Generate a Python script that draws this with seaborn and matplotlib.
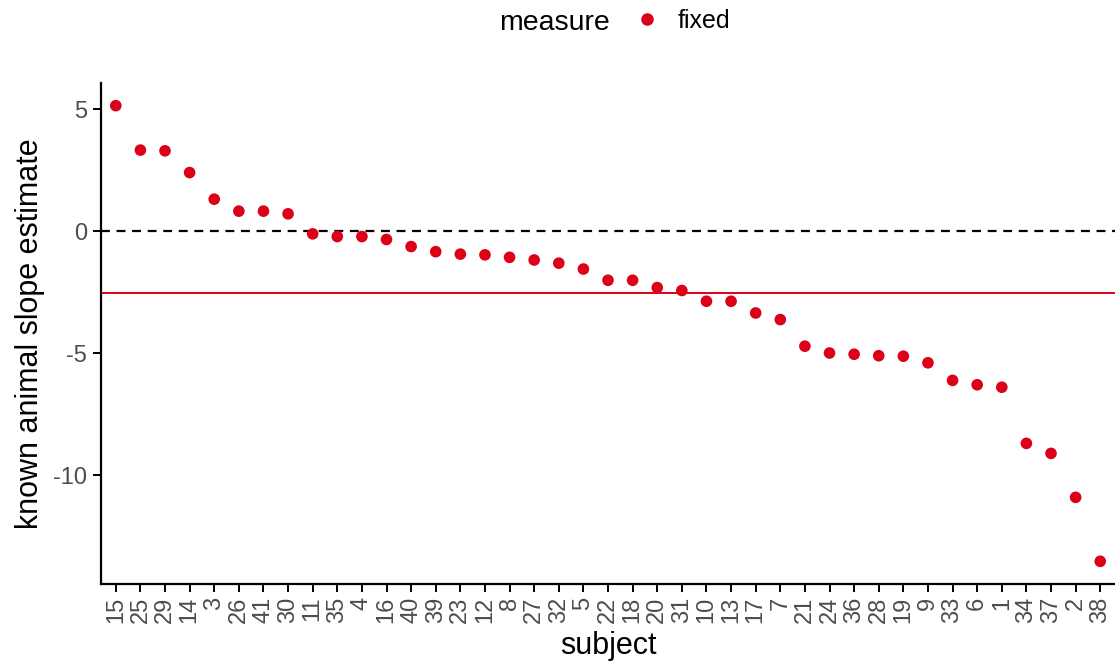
import pandas as pd
import matplotlib
matplotlib.use("Agg")
import matplotlib.pyplot as plt
import seaborn as sns

# subjects in plotted order, and their slope estimates
subjects = ["15", "25", "29", "14", "3", "26", "41", "30", "11", "35", "4", "16",
            "40", "39", "23", "12", "8", "27", "32", "5", "22", "18", "20", "31",
            "10", "13", "17", "7", "21", "24", "36", "28", "19", "9", "33", "6",
            "1", "34", "37", "2", "38"]
estimates = [5.14, 3.32, 3.29, 2.40, 1.31, 0.82, 0.82, 0.71, -0.11, -0.22, -0.22, -0.34,
             -0.63, -0.84, -0.94, -0.97, -1.07, -1.18, -1.31, -1.55, -2.01, -2.01, -2.31, -2.43,
             -2.87, -2.87, -3.35, -3.62, -4.71, -4.99, -5.04, -5.10, -5.12, -5.39, -6.11, -6.29,
             -6.39, -8.69, -9.10, -10.90, -13.52]
measure = ["fixed"] * len(subjects)
mean_line = -2.54
ref_line = 0

df = pd.DataFrame({"subject": subjects, "estimate": estimates, "measure": measure})

sns.set_style("ticks")
plt.rcParams["font.family"] = ["Liberation Sans", "DejaVu Sans"]
plt.rcParams["axes.unicode_minus"] = False
plt.rcParams["text.color"] = "black"
plt.rcParams["axes.labelcolor"] = "black"

red = "#DC0018"

fig = plt.figure(figsize=(11.15, 6.63), dpi=100)
ax = fig.add_axes([0.0906, 0.119, 0.9094, 0.756])

sns.scatterplot(data=df, x="subject", y="estimate", hue="measure", palette={"fixed": red},
                s=70, linewidth=0, ax=ax, zorder=3)

ax.axhline(ref_line, color="black", linestyle=(0, (4, 3)), linewidth=1.6, zorder=2)
ax.axhline(mean_line, color=red, linewidth=1.4, zorder=2)

n = len(subjects)
ax.set_xlim(-0.6, n - 1 + 0.6)
rng = max(estimates) - min(estimates)
ax.set_ylim(min(estimates) - 0.05 * rng, max(estimates) + 0.05 * rng)
ax.set_yticks([-10, -5, 0, 5])

sns.despine(ax=ax)
for side in ["left", "bottom"]:
    ax.spines[side].set_linewidth(1.6)
    ax.spines[side].set_color("black")

ax.tick_params(axis="both", length=6, width=1.4, colors="black", labelcolor="#4D4D4D", labelsize=17)
ax.tick_params(axis="x", labelrotation=90, pad=3)
ax.tick_params(axis="y", pad=4)

ax.set_xlabel("subject", fontsize=22, labelpad=6, color="black")
ax.set_ylabel("known animal slope estimate", fontsize=22, labelpad=6, color="black")

# legend across the top: title on the left, key beside it
ax.get_legend().remove()
fig.text(0.497, 0.966, "measure", fontsize=20.5, ha="center", va="center", color="black")
handle = plt.Line2D([], [], marker="o", linestyle="", color=red, markersize=8)
leg = fig.legend([handle], ["fixed"], loc="center left", bbox_to_anchor=(0.558, 0.968),
                 frameon=False, fontsize=18, handletextpad=0.6, borderaxespad=0, handlelength=1.2)
for t in leg.get_texts():
    t.set_color("black")

fig.savefig("out.png", dpi=100)
